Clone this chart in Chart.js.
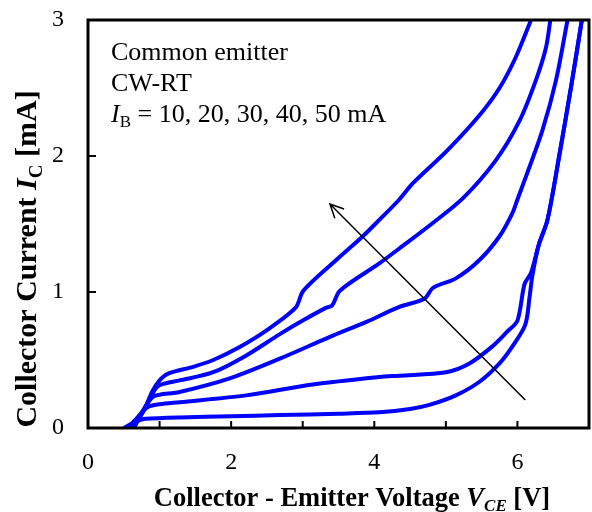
<!DOCTYPE html>
<html>
<head>
<meta charset="utf-8">
<script src="https://cdn.jsdelivr.net/npm/chart.js@4.4.1/dist/chart.umd.min.js"></script>
<style>
  html, body { margin: 0; padding: 0; background: #fff; }
  #wrap { width: 592px; height: 512px; }
</style>
</head>
<body>
<div id="wrap"><canvas id="icChart" width="592" height="512"></canvas></div>
<script>
// Ic-Vce output characteristics, one curve per base current
const vce10 = [0.50, 0.62, 0.72, 0.80, 1.28, 2.00, 2.68, 3.50, 4.07, 4.50, 4.77, 5.14, 5.47, 5.75, 5.93, 6.11, 6.17, 6.21, 6.30, 6.42, 6.59, 6.75, 6.90];
const ic10  = [0.00, 0.035, 0.058, 0.068, 0.078, 0.086, 0.095, 0.105, 0.115, 0.14, 0.17, 0.24, 0.34, 0.475, 0.60, 0.76, 0.965, 1.125, 1.35, 1.53, 2.02, 2.51, 3.00];

const vce20 = [0.55, 0.68, 0.78, 0.86, 1.00, 1.28, 2.21, 3.14, 4.07, 4.35, 5.00, 5.33, 5.65, 5.86, 6.00, 6.10, 6.19, 6.30, 6.42, 6.59, 6.75, 6.90];
const ic20  = [0.00, 0.07, 0.13, 0.16, 0.175, 0.19, 0.24, 0.32, 0.375, 0.385, 0.41, 0.475, 0.60, 0.71, 0.79, 1.06, 1.14, 1.35, 1.53, 2.02, 2.51, 3.00];

const vce30 = [0.58, 0.72, 0.83, 0.91, 1.00, 1.28, 1.98, 2.68, 3.38, 3.89, 4.35, 4.70, 4.82, 5.14, 5.47, 5.75, 5.93, 6.00, 6.12, 6.35, 6.54, 6.70];
const ic30  = [0.00, 0.09, 0.18, 0.23, 0.245, 0.265, 0.365, 0.51, 0.67, 0.78, 0.89, 0.95, 1.03, 1.10, 1.235, 1.41, 1.58, 1.68, 1.85, 2.19, 2.56, 3.00];

const vce40 = [0.61, 0.76, 0.87, 0.96, 1.05, 1.28, 1.75, 2.20, 2.68, 3.00, 3.33, 3.41, 3.52, 4.07, 4.35, 4.80, 5.24, 5.70, 6.03, 6.26, 6.40, 6.46];
const ic40  = [0.00, 0.11, 0.22, 0.30, 0.325, 0.35, 0.41, 0.53, 0.69, 0.79, 0.885, 0.90, 1.01, 1.21, 1.32, 1.50, 1.69, 1.97, 2.26, 2.56, 2.80, 3.00];

const vce50 = [0.64, 0.79, 0.90, 1.00, 1.12, 1.47, 1.75, 2.10, 2.50, 2.90, 3.01, 3.50, 3.84, 4.07, 4.35, 4.54, 5.00, 5.47, 5.75, 5.98, 6.19];
const ic50  = [0.00, 0.14, 0.27, 0.35, 0.40, 0.45, 0.50, 0.59, 0.72, 0.885, 1.01, 1.25, 1.41, 1.53, 1.68, 1.80, 2.03, 2.30, 2.50, 2.73, 3.00];

const xLabelled = [0, 2, 4, 6];
const yLabelled = [0, 1, 2, 3];

// arrow pointing towards increasing base current
const arrowFrom = [6.11, 0.206];
const arrowTo = [3.38, 1.647];

const noteLines = ['Common emitter', 'CW-RT'];
const ibValues = '10, 20, 30, 40, 50 mA';

const toPoints = (xs, ys) => xs.map((v, i) => ({ x: v, y: ys[i] }));

const serif = '"Liberation Serif", "Times New Roman", serif';

// draws a sequence of differently styled text pieces, returns total width
function drawRuns(ctx, runs, x, y, measureOnly) {
  let cx = x;
  runs.forEach(r => {
    ctx.font = r.font;
    if (!measureOnly) ctx.fillText(r.text, cx, y + (r.dy || 0));
    cx += ctx.measureText(r.text).width;
  });
  return cx - x;
}

const decorations = {
  id: 'decorations',
  afterDatasetsDraw(chart) {
    const { ctx, chartArea: a, scales: { x, y } } = chart;
    ctx.save();
    ctx.strokeStyle = '#000';
    ctx.fillStyle = '#000';

    // inward tick marks
    ctx.lineWidth = 2;
    ctx.beginPath();
    x.ticks.forEach(t => {
      if (t.value <= x.min || t.value >= x.max) return;
      const px = x.getPixelForValue(t.value);
      ctx.moveTo(px, a.bottom);
      ctx.lineTo(px, a.bottom - 7);
    });
    y.ticks.forEach(t => {
      if (t.value <= y.min || t.value >= y.max) return;
      const py = y.getPixelForValue(t.value);
      ctx.moveTo(a.left, py);
      ctx.lineTo(a.left + 8, py);
    });
    ctx.stroke();

    // plot frame
    ctx.lineWidth = 3;
    ctx.strokeRect(a.left, a.top, a.right - a.left, a.bottom - a.top);

    // arrow
    const x0 = x.getPixelForValue(arrowFrom[0]), y0 = y.getPixelForValue(arrowFrom[1]);
    const x1 = x.getPixelForValue(arrowTo[0]), y1 = y.getPixelForValue(arrowTo[1]);
    const ang = Math.atan2(y1 - y0, x1 - x0);
    const head = 15, spread = 0.45;
    ctx.lineWidth = 1.5;
    ctx.beginPath();
    ctx.moveTo(x0, y0);
    ctx.lineTo(x1, y1);
    ctx.moveTo(x1 - head * Math.cos(ang - spread), y1 - head * Math.sin(ang - spread));
    ctx.lineTo(x1, y1);
    ctx.lineTo(x1 - head * Math.cos(ang + spread), y1 - head * Math.sin(ang + spread));
    ctx.stroke();

    // notes in the upper left corner
    ctx.textBaseline = 'alphabetic';
    ctx.textAlign = 'left';
    ctx.font = '26px ' + serif;
    ctx.fillText(noteLines[0], a.left + 23, 60);
    ctx.fillText(noteLines[1], a.left + 23, 91);
    drawRuns(ctx, [
      { text: 'I', font: 'italic 26px ' + serif },
      { text: 'B', font: '17px ' + serif, dy: 5 },
      { text: ' = ' + ibValues, font: '26px ' + serif }
    ], a.left + 23, 122);

    // x axis title
    const xRuns = [
      { text: 'Collector - Emitter Voltage ', font: 'bold 26.5px ' + serif },
      { text: 'V', font: 'italic bold 26.5px ' + serif },
      { text: 'CE', font: 'italic bold 17px ' + serif, dy: 5 },
      { text: ' [V]', font: 'bold 26.5px ' + serif }
    ];
    const xw = drawRuns(ctx, xRuns, 0, 0, true);
    drawRuns(ctx, xRuns, 352 - xw / 2, 506);

    // y axis title
    const yRuns = [
      { text: 'Collector Current ', font: 'bold 30px ' + serif },
      { text: 'I', font: 'italic bold 30px ' + serif },
      { text: 'C', font: 'bold 19px ' + serif, dy: 6 },
      { text: ' [mA]', font: 'bold 30px ' + serif }
    ];
    const yw = drawRuns(ctx, yRuns, 0, 0, true);
    ctx.translate(36, 259);
    ctx.rotate(-Math.PI / 2);
    drawRuns(ctx, yRuns, -yw / 2, 0);
    ctx.restore();
  }
};

const curve = (xs, ys, name) => ({
  label: name,
  data: toPoints(xs, ys),
  showLine: true,
  borderColor: '#0000ff',
  backgroundColor: '#0000ff',
  borderWidth: 4,
  pointRadius: 0,
  tension: 0.3,
  fill: false
});

// fixed axis sizes, no extra label overhang padding
const fixBox = (w, h) => s => {
  if (w !== null) s.width = w;
  if (h !== null) s.height = h;
  s.paddingTop = s.paddingBottom = s.paddingLeft = s.paddingRight = 0;
};

new Chart(document.getElementById('icChart'), {
  type: 'scatter',
  data: {
    datasets: [
      curve(vce10, ic10, 'IB = 10 mA'),
      curve(vce20, ic20, 'IB = 20 mA'),
      curve(vce30, ic30, 'IB = 30 mA'),
      curve(vce40, ic40, 'IB = 40 mA'),
      curve(vce50, ic50, 'IB = 50 mA')
    ]
  },
  options: {
    responsive: false,
    animation: false,
    layout: { padding: { top: 20, right: 3, left: 0, bottom: 0 } },
    plugins: { legend: { display: false }, tooltip: { enabled: false } },
    scales: {
      x: {
        type: 'linear',
        min: 0, max: 7,
        grid: { display: false, drawTicks: false },
        border: { display: false },
        ticks: {
          stepSize: 1,
          padding: 20,
          color: '#000',
          font: { family: serif, size: 24 },
          callback: v => xLabelled.includes(v) ? String(v) : ''
        },
        afterFit: fixBox(null, 84)
      },
      y: {
        type: 'linear',
        min: 0, max: 3,
        grid: { display: false, drawTicks: false },
        border: { display: false },
        ticks: {
          stepSize: 1,
          padding: 24,
          color: '#000',
          font: { family: serif, size: 24 },
          callback: v => yLabelled.includes(v) ? String(v) : ''
        },
        afterFit: fixBox(88, null)
      }
    }
  },
  plugins: [decorations]
});
</script>
</body>
</html>
